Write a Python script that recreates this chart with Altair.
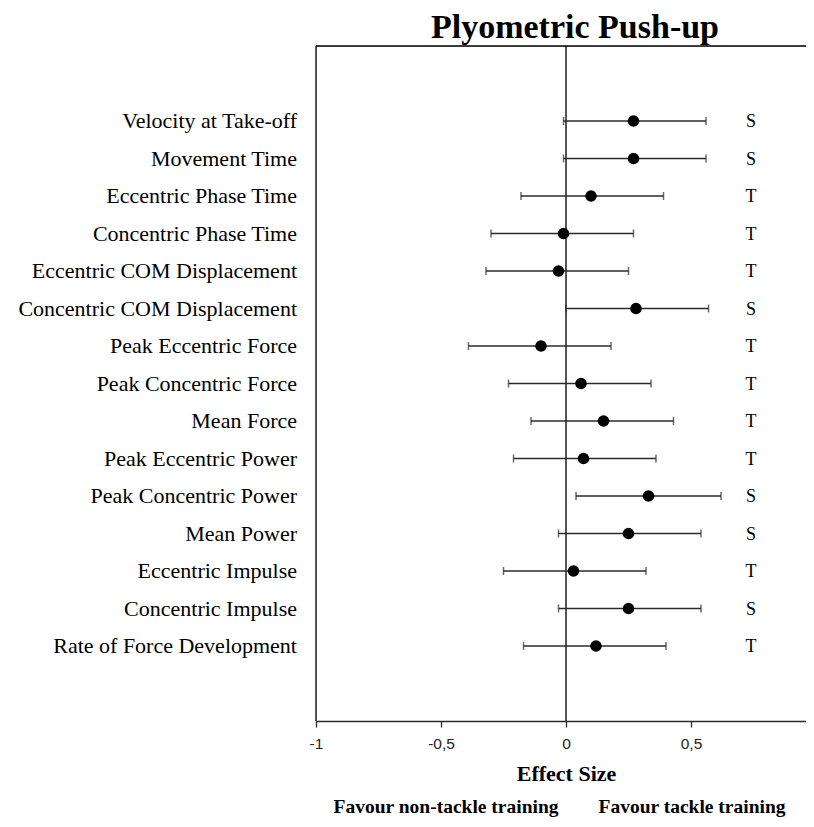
import altair as alt
import pandas as pd

measures = [
    "Velocity at Take-off",
    "Movement Time\u00a0",
    "Eccentric Phase Time",
    "Concentric Phase Time",
    "Eccentric COM Displacement",
    "Concentric COM Displacement",
    "Peak Eccentric Force",
    "Peak Concentric Force",
    "Mean Force",
    "Peak Eccentric Power",
    "Peak Concentric Power",
    "Mean Power",
    "Eccentric Impulse",
    "Concentric Impulse",
    "Rate of Force Development",
]
effect = [0.27, 0.27, 0.10, -0.01, -0.03, 0.28, -0.10, 0.06, 0.15, 0.07, 0.33, 0.25, 0.03, 0.25, 0.12]
lower = [-0.01, -0.01, -0.18, -0.30, -0.32, 0.00, -0.39, -0.23, -0.14, -0.21, 0.04, -0.03, -0.25, -0.03, -0.17]
upper = [0.56, 0.56, 0.39, 0.27, 0.25, 0.57, 0.18, 0.34, 0.43, 0.36, 0.62, 0.54, 0.32, 0.54, 0.40]
flags = ["S", "S", "T", "T", "T", "S", "T", "T", "T", "T", "S", "S", "T", "S", "T"]
x_ticks = [-1, -0.5, 0, 0.5, 1]

df = pd.DataFrame({
    "measure": measures,
    "row": list(range(2, 2 + len(measures))),
    "es": effect,
    "lo": lower,
    "hi": upper,
    "flag": flags,
})

W, H = 490, 675
serif = "Liberation Serif"
ink = "#2b2b2b"

xscale = alt.Scale(domain=[-1, 0.96], nice=False, zero=False)
yscale = alt.Scale(domain=[0, 18], reverse=True, nice=False, zero=False)

base = alt.Chart(df)

x_axis = alt.Axis(
    values=x_ticks,
    labelExpr="replace(toString(datum.value), '.', ',')",
    title="Effect Size",
    titleFont=serif, titleFontSize=22, titleFontWeight="bold", titleColor="black",
    titlePadding=12, titleX=250, titleAnchor="middle",
    labelFont="Liberation Sans", labelFontSize=15.5, labelColor="#222222",
    labelPadding=9,
    tickSize=6, tickColor=ink, domainColor=ink, domainWidth=1.3, tickWidth=1.3,
    grid=False, labelFlush=False,
)

zero_line = alt.Chart(pd.DataFrame({"z": [0]})).mark_rule(color=ink, strokeWidth=1.6).encode(
    x=alt.X("z:Q", scale=xscale, axis=x_axis)
)

frame_top = alt.Chart(pd.DataFrame({"z": [0]})).mark_rule(color="black", strokeWidth=1.3).encode(
    x=alt.value(0), x2=alt.value(W + 10), y=alt.value(0)
)
frame_left = alt.Chart(pd.DataFrame({"z": [0]})).mark_rule(color="black", strokeWidth=1.3).encode(
    x=alt.value(0), y=alt.value(0), y2=alt.value(H)
)

bars = base.mark_rule(color=ink, strokeWidth=1.5).encode(
    x=alt.X("lo:Q", scale=xscale),
    x2="hi:Q",
    y=alt.Y("row:Q", scale=yscale, axis=None),
)
cap_lo = base.mark_tick(color=ink, thickness=1.5, size=8, orient="vertical").encode(
    x=alt.X("lo:Q", scale=xscale), y=alt.Y("row:Q", scale=yscale, axis=None)
)
cap_hi = base.mark_tick(color=ink, thickness=1.5, size=8, orient="vertical").encode(
    x=alt.X("hi:Q", scale=xscale), y=alt.Y("row:Q", scale=yscale, axis=None)
)
points = base.mark_point(filled=True, color="black", opacity=1, size=135, shape="circle").encode(
    x=alt.X("es:Q", scale=xscale), y=alt.Y("row:Q", scale=yscale, axis=None)
)
flag_text = base.mark_text(font=serif, fontSize=18, color="black", align="center", baseline="middle", dy=1).encode(
    x=alt.value(435), y=alt.Y("row:Q", scale=yscale, axis=None), text="flag:N"
)
labels = base.mark_text(font=serif, fontSize=22, color="black", align="right", baseline="middle").encode(
    x=alt.value(-19), y=alt.Y("row:Q", scale=yscale, axis=None), text="measure:N"
)

title = alt.Chart(pd.DataFrame({"t": ["Plyometric Push-up"]})).mark_text(
    font=serif, fontSize=34, fontWeight="bold", color="black", align="center", baseline="alphabetic"
).encode(x=alt.value(259), y=alt.value(-8), text="t:N")

foot = alt.Chart(pd.DataFrame({
    "t": ["Favour non-tackle training", "Favour tackle training"],
    "px": [130, 376],
})).mark_text(
    font=serif, fontSize=19.5, fontWeight="bold", color="black", align="center", baseline="middle"
).encode(x=alt.X("px:Q", scale=None), y=alt.value(761), text="t:N")

chart = alt.layer(zero_line, frame_top, frame_left, bars, cap_lo, cap_hi, points, flag_text, labels, title, foot).properties(
    width=W, height=H,
    autosize=alt.AutoSizeParams(type="none"),
    padding={"left": 308, "top": 38, "right": 0, "bottom": 98},
).configure_view(stroke=None).configure(background="white")

chart.save("out.html", embed_options={"renderer": "svg", "actions": False})
